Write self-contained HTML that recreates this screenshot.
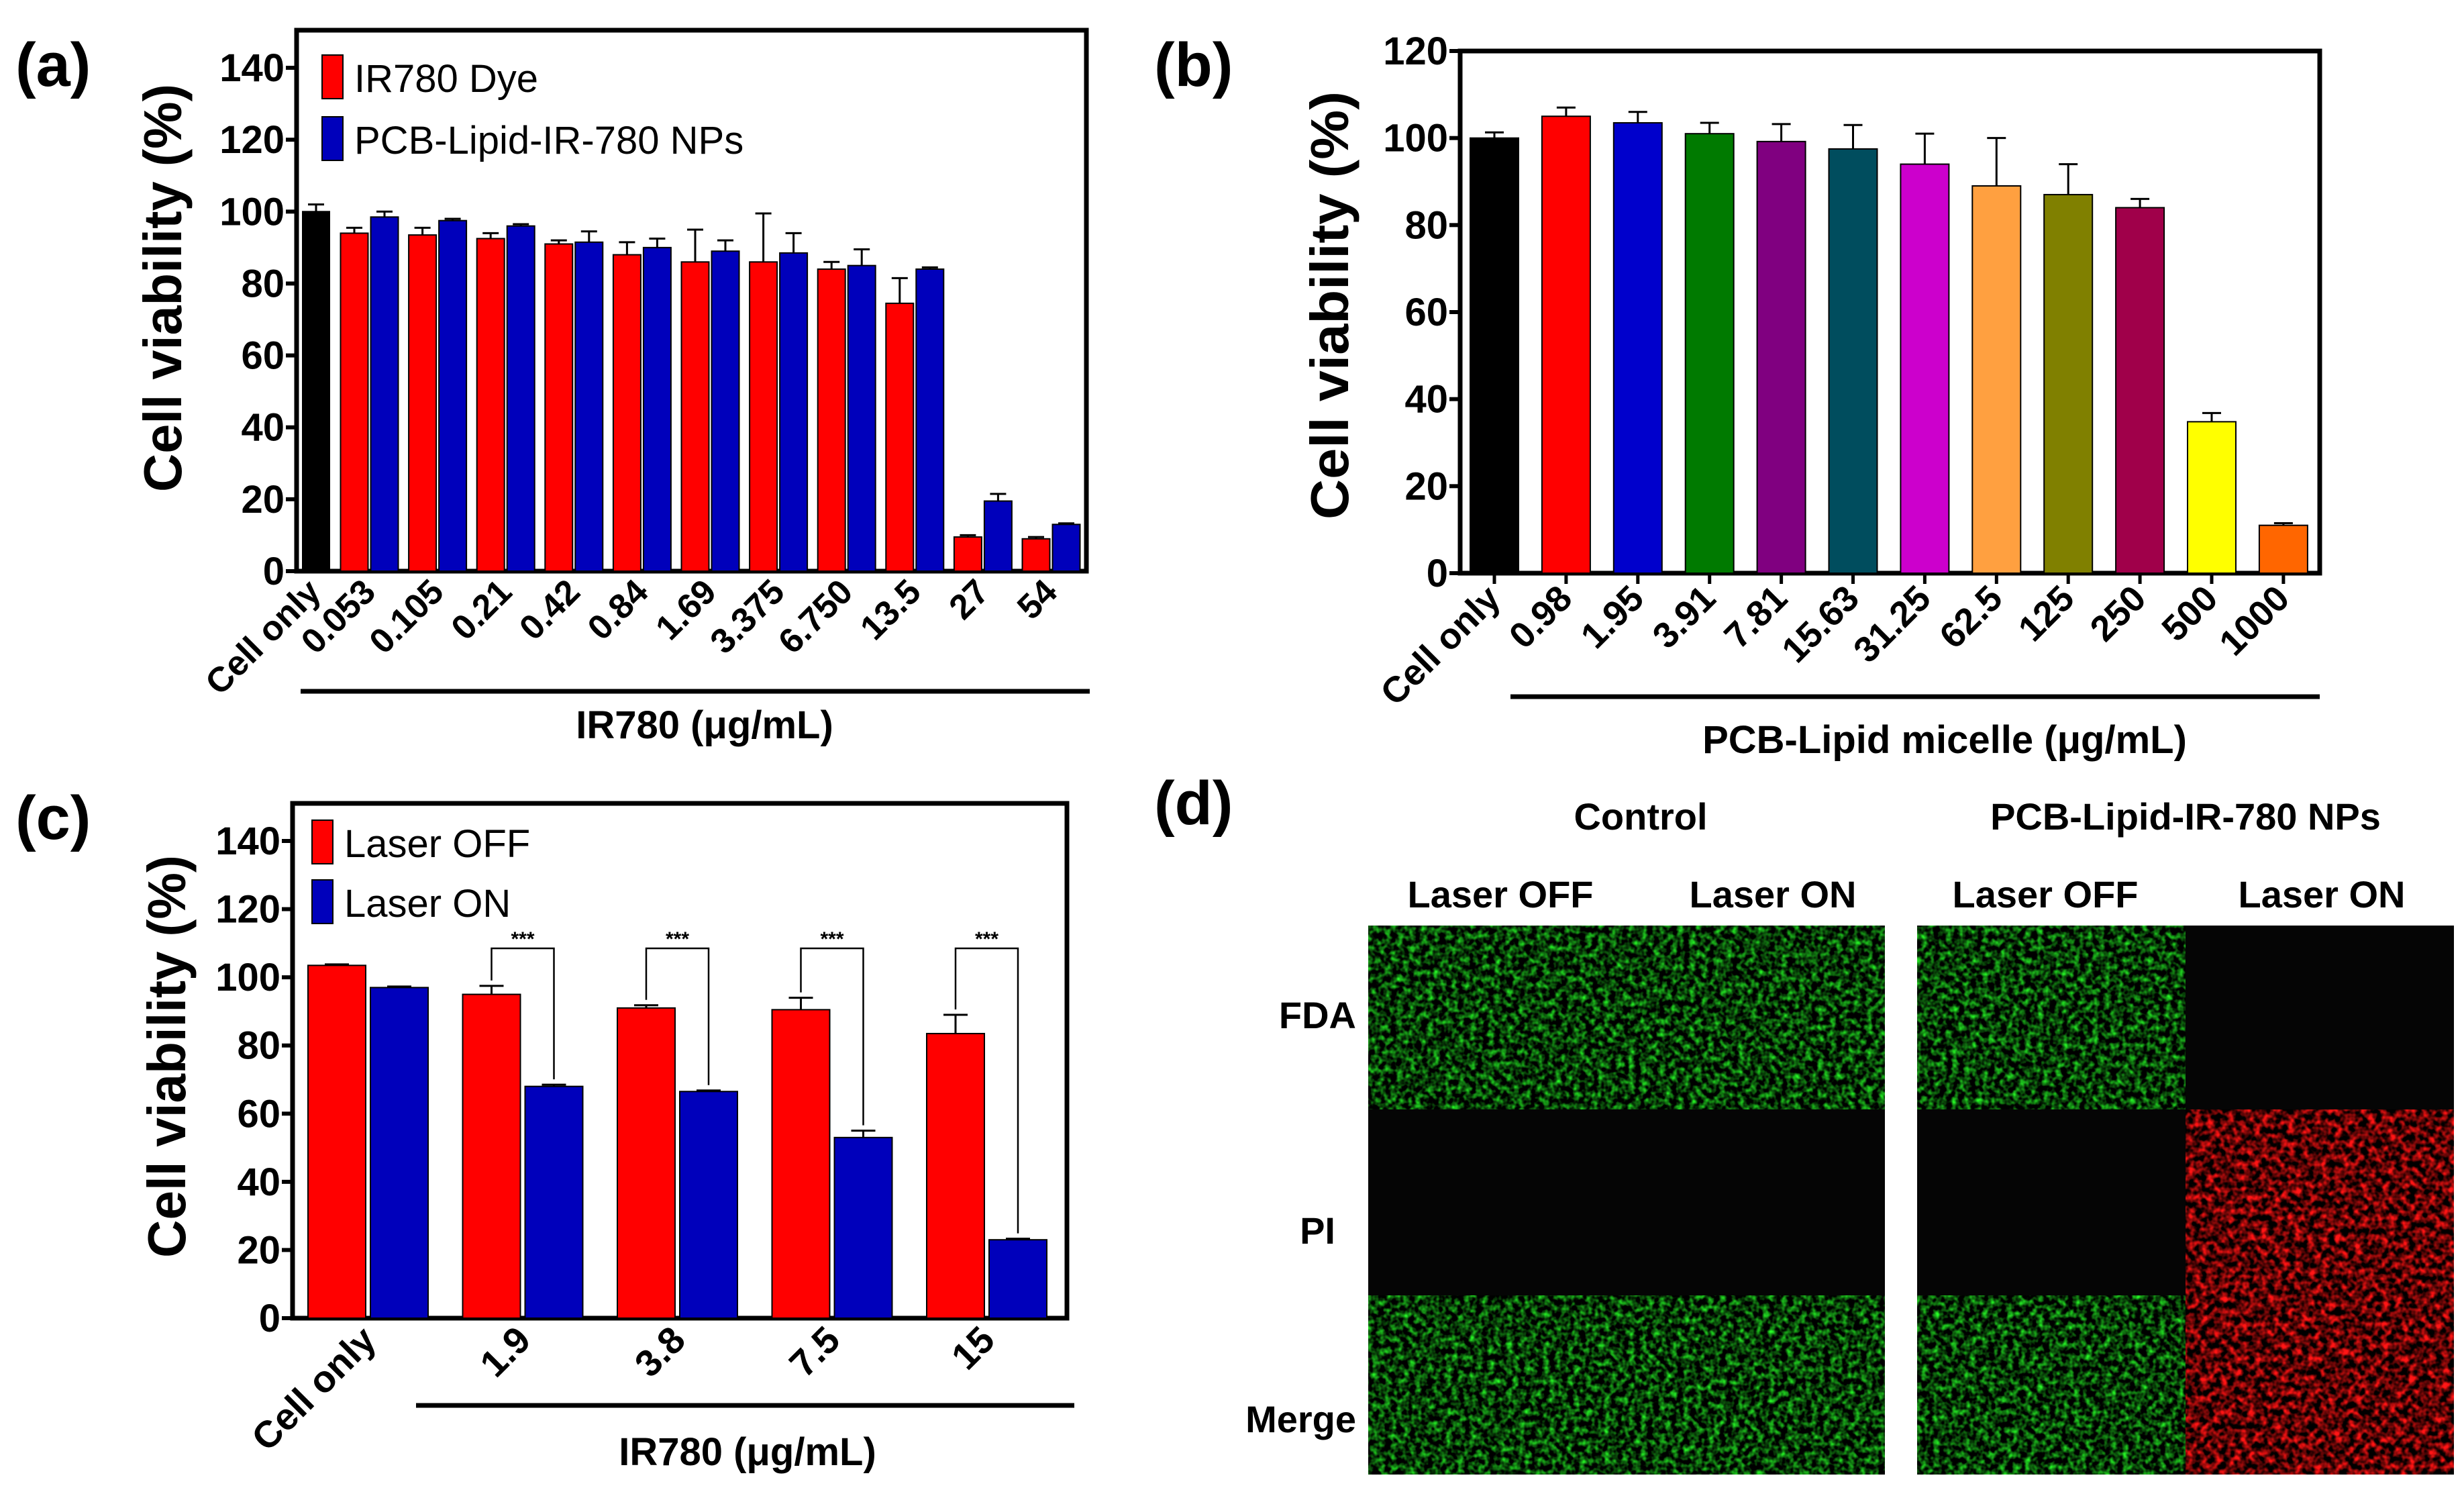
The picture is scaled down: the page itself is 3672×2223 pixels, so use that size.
<!DOCTYPE html>
<html><head><meta charset="utf-8"><style>
html,body{margin:0;padding:0;background:#fff;}
svg{display:block;}
text{font-family:"Liberation Sans Narrow","Liberation Sans",sans-serif;font-weight:bold;fill:#000;}
.t{font-family:"Liberation Sans",sans-serif;}
.d{font-family:"Liberation Sans",sans-serif;font-weight:bold;}
.n{font-weight:normal;}
</style></head><body>
<svg id="fig" width="3672" height="2223" viewBox="0 0 3672 2223" xmlns="http://www.w3.org/2000/svg">
<defs>
<filter id="gn" x="0" y="0" width="100%" height="100%" color-interpolation-filters="sRGB"><feTurbulence type="fractalNoise" baseFrequency="0.11" numOctaves="2" seed="3"/><feColorMatrix type="matrix" values="0.3 0 0 0 -0.12  1.9 0 0 0 -0.72  0.3 0 0 0 -0.12  0 0 0 0 1"/></filter>
<filter id="rn" x="0" y="0" width="100%" height="100%" color-interpolation-filters="sRGB"><feTurbulence type="fractalNoise" baseFrequency="0.1" numOctaves="2" seed="7"/><feColorMatrix type="matrix" values="2.4 0 0 0 -0.85  0.2 0 0 0 -0.08  0.2 0 0 0 -0.08  0 0 0 0 1"/></filter>
</defs>
<g id="pa"></g>
<g id="pb"></g>
<g id="pc"></g>
<g id="pd">
  <text x="1720" y="1228" font-size="92" class="t">(d)</text>
  <text x="2445" y="1236" font-size="56" class="d" text-anchor="middle">Control</text>
  <text x="3257" y="1236" font-size="56" class="d" text-anchor="middle">PCB-Lipid-IR-780 NPs</text>
  <text x="2236" y="1352" font-size="56" class="d" text-anchor="middle">Laser OFF</text>
  <text x="2642" y="1352" font-size="56" class="d" text-anchor="middle">Laser ON</text>
  <text x="3048" y="1352" font-size="56" class="d" text-anchor="middle">Laser OFF</text>
  <text x="3460" y="1352" font-size="56" class="d" text-anchor="middle">Laser ON</text>
  <text x="2021" y="1532" font-size="56" class="d" text-anchor="end">FDA</text>
  <text x="1990" y="1853" font-size="56" class="d" text-anchor="end">PI</text>
  <text x="2021" y="2134" font-size="56" class="d" text-anchor="end">Merge</text>
  <rect x="2039" y="1379" width="770" height="818" fill="#050505"/>
  <rect x="2039" y="1379" width="770" height="274" filter="url(#gn)"/>
  <rect x="2039" y="1930" width="770" height="267" filter="url(#gn)"/>
  <rect x="2857" y="1379" width="800" height="818" fill="#050505"/>
  <rect x="2857" y="1379" width="400" height="274" filter="url(#gn)"/>
  <rect x="2857" y="1930" width="400" height="267" filter="url(#gn)"/>
  <rect x="3257" y="1653" width="400" height="544" filter="url(#rn)"/>
</g>
</svg>
<script>
// ---- Panel (a) data ----
const aCats = ["Cell only","0.053","0.105","0.21","0.42","0.84","1.69","3.375","6.750","13.5","27","54"];
const aControl = 100, aControlErr = 2;
const aDye = [94,93.5,92.5,91,88,86,86,84,74.5,9.5,9];
const aDyeErr = [1.5,2,1.5,1,3.5,9,13.5,2,7,0.5,0.5];
const aNPs = [98.5,97.5,96,91.5,90,89,88.5,85,84,19.5,13];
const aNPsErr = [1.5,0.5,0.5,3,2.5,3,5.5,4.5,0.5,2,0.3];
const aTicks = [0,20,40,60,80,100,120,140];
// ---- Panel (b) data ----
const bCats = ["Cell only","0.98","1.95","3.91","7.81","15.63","31.25","62.5","125","250","500","1000"];
const bVals = [100,105,103.5,101,99.2,97.5,94,89,87,84,34.8,11];
const bErr = [1.3,2,2.5,2.5,4,5.5,7,11,7,2,2,0.5];
const bColors = ["#000000","#ff0000","#0000cc","#007a00","#800080","#004d5e","#cc00cc","#ffa040","#808000","#a0004a","#ffff00","#ff6600"];
const bTicks = [0,20,40,60,80,100,120];
// ---- Panel (c) data ----
const cCats = ["Cell only","1.9","3.8","7.5","15"];
const cOff = [103.5,95,91,90.5,83.5];
const cOffErr = [0.3,2.5,0.8,3.5,5.5];
const cOn = [97,68,66.5,53,23];
const cOnErr = [0.3,0.5,0.3,2,0.3];
const cTicks = [0,20,40,60,80,100,120,140];

const NS="http://www.w3.org/2000/svg";
function mk(parent,tag,attrs,txt){const e=document.createElementNS(NS,tag);for(const k in attrs)e.setAttribute(k,attrs[k]);if(txt!==undefined)e.textContent=txt;parent.appendChild(e);return e;}

function frame(g,L,R,T,B,yf,ticks,title,tcx,tcy,tlen,label,lx,ly){
  const box=mk(g,'rect',{x:L,y:T,width:R-L,height:B-T,fill:'none',stroke:'#000','stroke-width':7});
  
  
  ticks.forEach(v=>{
    const tk=mk(g,'line',{x1:L-16,x2:L,y1:yf(v),y2:yf(v),stroke:'#000','stroke-width':6});
    
    
    const tl=mk(g,'text',{x:L-18,y:yf(v)+20,'font-size':58,'text-anchor':'end'},String(v));
    
    
  });
  const yt=mk(g,'text',{x:0,y:0,'font-size':80,'text-anchor':'middle',class:'t',textLength:tlen,lengthAdjust:'spacingAndGlyphs',transform:`translate(${tcx},${tcy}) rotate(-90)`},title);
  
  
  const pl=mk(g,'text',{x:lx,y:ly,'font-size':92,class:'t'},label);
  
  
}
function bar(g,x,w,y0,y1,fill,name){
  const r=mk(g,'rect',{x:x-w/2,y:y1,width:w,height:y0-y1,fill:fill,stroke:'#000','stroke-width':2});
  
  
}
function err(g,x,yTop,yErr,cw){
  const e=mk(g,'path',{d:`M${x},${yTop}V${yErr}M${x-cw},${yErr}H${x+cw}`,stroke:'#000','stroke-width':3,fill:'none'});
  
  
}
function xlab(g,x,y,t,fs){
  const e=mk(g,'text',{x:0,y:0,'font-size':fs,'text-anchor':'end',transform:`translate(${x},${y}) rotate(-45)`},t);
  
  
}
function legend(g,x,y,color,t){
  const s=mk(g,'rect',{x:x,y:y,width:31,height:65,fill:color,stroke:'#000','stroke-width':2});
  
  
  const tx=mk(g,'text',{x:x+48,y:y+55,'font-size':58,class:'n'},t);
  
  
}
function groupLine(g,x1,x2,y,t,cx,by){
  const l=mk(g,'line',{x1:x1,x2:x2,y1:y,y2:y,stroke:'#000','stroke-width':7});
  
  
  const tt=mk(g,'text',{x:cx,y:by,'font-size':58,'text-anchor':'middle'},t);
  
  
}

// Panel a
(function(){
  const g=document.getElementById('pa');
  const L=442,R=1619,T=45,B=851;
  const ya=v=>B-v*(B-101)/140;
  frame(g,L,R,T,B,ya,aTicks,"Cell viability (%)",270,429,608,"(a)",23,128);
  bar(g,471,40,B,ya(aControl),'#000','bar-cell-only');
  err(g,471,ya(aControl),ya(aControl+aControlErr),12);
  xlab(g,481,885,aCats[0],52);
  aDye.forEach((v,i)=>{
    const xr=528+i*101.6, xb=xr+45;
    bar(g,xr,41,B,ya(v),'#ff0000','bar-ir780-dye');
    err(g,xr,ya(v),ya(v+aDyeErr[i]),12);
    bar(g,xb,41,B,ya(aNPs[i]),'#0000bb','bar-nps');
    err(g,xb,ya(aNPs[i]),ya(aNPs[i]+aNPsErr[i]),12);
    xlab(g,(xr+xb)/2+12,885,aCats[i+1],52);
  });
  legend(g,480,82,'#ff0000','IR780 Dye');
  legend(g,480,174,'#0000bb','PCB-Lipid-IR-780 NPs');
  groupLine(g,448,1624,1030,"IR780 (\u03bcg/mL)",1050,1100);
})();

// Panel b
(function(){
  const g=document.getElementById('pb');
  const L=2176,R=3457,T=76,B=854;
  const yb=v=>B-v*(B-T)/120;
  frame(g,L,R,T,B,yb,bTicks,"Cell viability (%)",2009,455,638,"(b)",1720,128);
  bVals.forEach((v,i)=>{
    const x=2227+i*106.9;
    bar(g,x,72,B,yb(v),bColors[i],'bar-'+bCats[i].replace(/\s|\./g,'-'));
    err(g,x,yb(v),yb(v+bErr[i]),14);
    const tk=mk(g,'line',{x1:x,x2:x,y1:B,y2:B+16,stroke:'#000','stroke-width':5});
    
    
    xlab(g,x+12,895,bCats[i],54);
  });
  groupLine(g,2251,3457,1038,"PCB-Lipid micelle (\u03bcg/mL)",2898,1122);
})();

// Panel c
(function(){
  const g=document.getElementById('pc');
  const L=436,R=1590,T=1197,B=1964;
  const yc=v=>B-v*(B-1253)/140;
  frame(g,L,R,T,B,yc,cTicks,"Cell viability (%)",276,1574,600,"(c)",23,1250);
  cOff.forEach((v,i)=>{
    const xr=502+i*230.5, xb=xr+93;
    bar(g,xr,86,B,yc(v),'#ff0000','bar-laser-off');
    err(g,xr,yc(v),yc(v+cOffErr[i]),18);
    bar(g,xb,86,B,yc(cOn[i]),'#0000bb','bar-laser-on');
    err(g,xb,yc(cOn[i]),yc(cOn[i]+cOnErr[i]),18);
    xlab(g,(xr+xb)/2+15,2000,cCats[i],56);
    if(i>0){
      const top=yc(108.5);
      const br=mk(g,'path',{d:`M${xr},${yc(v+cOffErr[i])-8}V${top}H${xb}V${yc(cOn[i]+cOnErr[i])-8}`,stroke:'#000','stroke-width':2.5,fill:'none'});
      
      
      const st=mk(g,'text',{x:(xr+xb)/2,y:top-4,'font-size':30,'text-anchor':'middle'},'***');
      
      
    }
  });
  legend(g,465,1222,'#ff0000','Laser OFF');
  legend(g,465,1311,'#0000bb','Laser ON');
  groupLine(g,620,1601,2094,"IR780 (\u03bcg/mL)",1114,2183);
})();
</script>
</body></html>
